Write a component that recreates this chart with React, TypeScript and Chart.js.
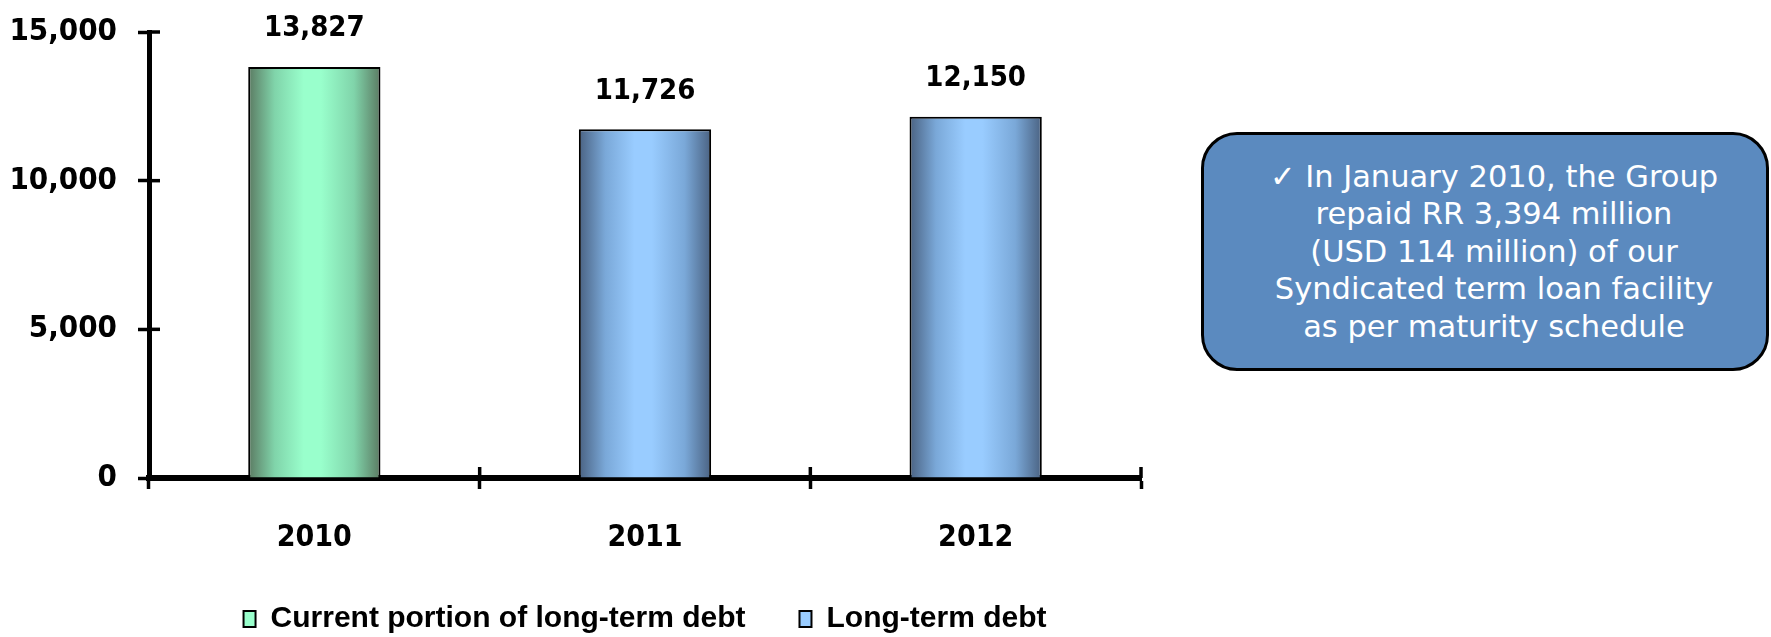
import React, { useEffect, useRef } from "react";
import { Chart, registerables } from "chart.js";

Chart.register(...registerables);

const CATEGORIES = ["2010", "2011", "2012"];
const CURRENT_PORTION: (number | null)[] = [13827, null, null];
const LONG_TERM: (number | null)[] = [null, 11726, 12150];
const SERIES_NAMES = ["Current portion of long-term debt", "Long-term debt"];
const Y_MIN = 0;
const Y_MAX = 15000;
const Y_STEP = 5000;
const NOTE_LINES = [
  "\u2713 In January 2010, the Group",
  "repaid RR 3,394 million",
  "(USD 114 million) of our",
  "Syndicated term loan facility",
  "as per maturity schedule",
];

const FAMILY = '"DejaVu Sans Condensed", "DejaVu Sans", sans-serif';
const LEGEND_FAMILY = '"Liberation Sans", Arial, sans-serif';
const BAR_PCT = 0.4;

const GREEN = { dark: "#5b7a62", mid: "#80d4aa", light: "#99ffcc" };
const BLUE = { dark: "#4a6282", mid: "#7aa8d8", light: "#99ccff" };

function fmt(v: number) {
  return v.toLocaleString("en-US");
}

function gradientFor(pal: { dark: string; mid: string; light: string }) {
  return (c: any) => {
    const chart = c.chart;
    const xs = chart.scales && chart.scales.x;
    if (c.type !== "data" || typeof c.dataIndex !== "number" || !xs || !chart.chartArea) return pal.light;
    const cx = xs.getPixelForValue(c.dataIndex);
    const cw = (xs.width / CATEGORIES.length) * BAR_PCT;
    if (!isFinite(cx) || !isFinite(cw)) return pal.light;
    const g = chart.ctx.createLinearGradient(cx - cw / 2, 0, cx + cw / 2, 0);
    g.addColorStop(0, pal.dark);
    g.addColorStop(0.2, pal.mid);
    g.addColorStop(0.42, pal.light);
    g.addColorStop(0.55, pal.light);
    g.addColorStop(0.8, pal.mid);
    g.addColorStop(1, pal.dark);
    return g;
  };
}

const labelsPlugin = {
  id: "valueLabels",
  afterDatasetsDraw(chart: any) {
    const ctx = chart.ctx;
    ctx.save();
    ctx.font = `bold 29px ${FAMILY}`;
    ctx.fillStyle = "#000";
    ctx.textAlign = "center";
    ctx.textBaseline = "middle";
    chart.data.datasets.forEach((ds: any, di: number) => {
      const meta = chart.getDatasetMeta(di);
      meta.data.forEach((el: any, i: number) => {
        const v = ds.data[i];
        if (v === null || v === undefined) return;
        ctx.fillText(fmt(v), el.x, el.y - 38);
      });
    });
    ctx.restore();
  },
};

const crossTicksPlugin = {
  id: "crossTicks",
  afterDraw(chart: any) {
    const ctx = chart.ctx;
    const ys = chart.scales.y;
    const xs = chart.scales.x;
    const area = chart.chartArea;
    ctx.save();
    ctx.strokeStyle = "#000";
    ctx.lineWidth = 3.5;
    for (let v = Y_MIN + Y_STEP; v <= Y_MAX; v += Y_STEP) {
      const py = ys.getPixelForValue(v);
      ctx.beginPath();
      ctx.moveTo(area.left, py);
      ctx.lineTo(area.left + 11, py);
      ctx.stroke();
    }
    for (let i = 0; i < CATEGORIES.length; i++) {
      const px = xs.getPixelForValue(i + 0.5);
      ctx.beginPath();
      ctx.moveTo(px, area.bottom);
      ctx.lineTo(px, area.bottom - 11);
      ctx.stroke();
    }
    ctx.restore();
  },
};

function BarChart() {
  const ref = useRef<HTMLCanvasElement | null>(null);
  useEffect(() => {
    if (!ref.current) return;
    const palettes = [GREEN, BLUE];
    const chart = new Chart(ref.current, {
      type: "bar",
      data: {
        labels: CATEGORIES,
        datasets: [
          {
            label: SERIES_NAMES[0],
            data: CURRENT_PORTION,
            backgroundColor: gradientFor(GREEN),
            borderColor: "#000",
            borderWidth: 2,
            barPercentage: BAR_PCT,
            categoryPercentage: 1,
          },
          {
            label: SERIES_NAMES[1],
            data: LONG_TERM,
            backgroundColor: gradientFor(BLUE),
            borderColor: "#000",
            borderWidth: 2,
            barPercentage: BAR_PCT,
            categoryPercentage: 1,
          },
        ],
      },
      options: {
        responsive: false,
        animation: false,
        layout: { padding: { top: 32, right: 630, left: 0, bottom: 0 } },
        plugins: {
          tooltip: { enabled: false },
          legend: {
            position: "bottom",
            fullSize: false,
            labels: {
              boxWidth: 12,
              boxHeight: 16,
              padding: 54,
              color: "#000",
              font: { family: LEGEND_FAMILY, size: 30, weight: "bold" },
              generateLabels: (ch: any) =>
                Chart.defaults.plugins.legend.labels.generateLabels(ch).map((it: any, i: number) => ({
                  ...it,
                  fillStyle: palettes[i].light,
                  strokeStyle: "#000",
                  lineWidth: 2,
                })),
            },
          },
        },
        scales: {
          x: {
            stacked: true,
            grid: {
              drawOnChartArea: false,
              drawTicks: true,
              tickLength: 11,
              tickWidth: 3.5,
              tickColor: "#000",
            },
            border: { display: true, color: "#000", width: 6 },
            ticks: {
              color: "#000",
              padding: 31,
              font: { family: FAMILY, size: 30, weight: "bold" },
            },
            afterFit: (s: any) => {
              s.height = 72;
            },
          },
          y: {
            stacked: true,
            min: Y_MIN,
            max: Y_MAX,
            grid: {
              drawOnChartArea: false,
              drawTicks: true,
              tickLength: 11,
              tickWidth: 3.5,
              tickColor: "#000",
            },
            border: { display: true, color: "#000", width: 5 },
            ticks: {
              stepSize: Y_STEP,
              color: "#000",
              padding: 21,
              font: { family: FAMILY, size: 31, weight: "bold" },
              callback: (v: any) => fmt(Number(v)),
            },
            afterFit: (s: any) => {
              s.width = 149;
              s.paddingTop = 0;
              s.paddingBottom = 0;
            },
          },
        },
      },
      plugins: [labelsPlugin, crossTicksPlugin],
    });
    return () => chart.destroy();
  }, []);
  return <canvas ref={ref} width={1771} height={644} style={{ display: "block" }} />;
}

export default function App() {
  return (
    <div
      style={{
        position: "absolute",
        left: 0,
        top: 0,
        width: 1771,
        height: 637,
        background: "#fff",
        overflow: "hidden",
      }}
    >
      <BarChart />
      <div
        style={{
          position: "absolute",
          left: 1201,
          top: 132,
          width: 568,
          height: 239,
          boxSizing: "border-box",
          border: "3px solid #000",
          borderRadius: 36,
          background: "#5b8abf",
          color: "#fff",
          display: "flex",
          flexDirection: "column",
          justifyContent: "center",
          alignItems: "center",
          paddingLeft: 18,
          fontFamily: '"DejaVu Sans", sans-serif',
          fontSize: 30.5,
          lineHeight: "37.5px",
          textAlign: "center",
        }}
      >
        {NOTE_LINES.map((l, i) => (
          <div key={i} style={{ whiteSpace: "nowrap" }}>
            {l}
          </div>
        ))}
      </div>
    </div>
  );
}
